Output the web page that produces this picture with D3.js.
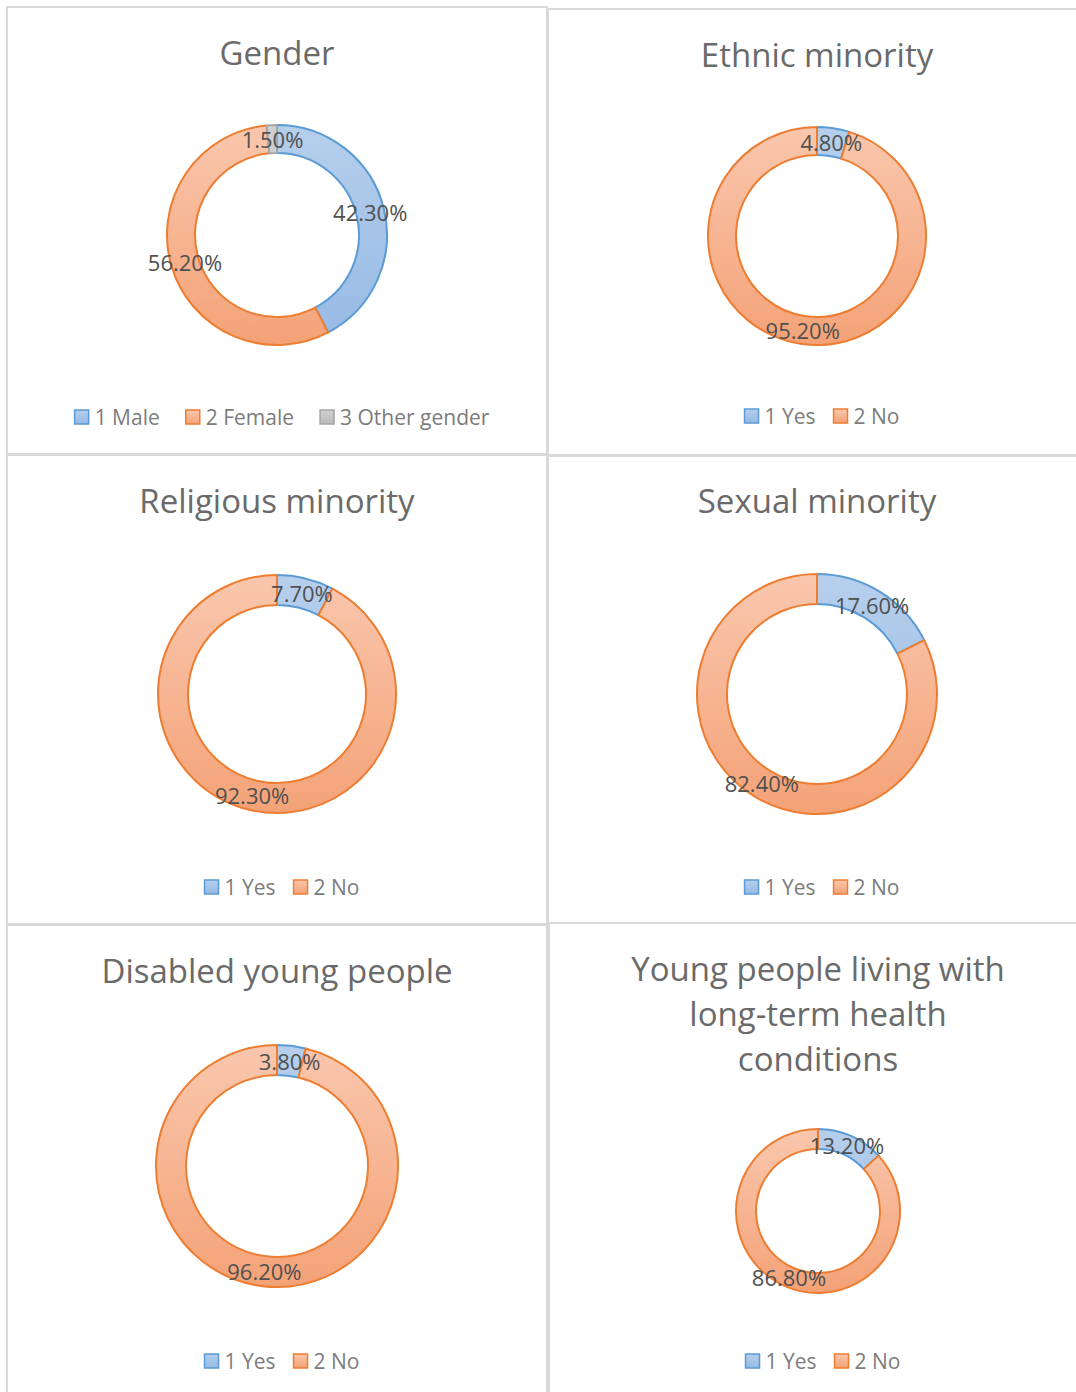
<!DOCTYPE html>
<html>
<head>
<meta charset="utf-8">
<script src="https://cdn.jsdelivr.net/npm/d3@7"></script>
<style>
  body { margin: 0; background: #fff; }
  svg { display: block; font-family: "Open Sans", "DejaVu Sans", sans-serif; }
</style>
</head>
<body>
<svg id="chart" width="1076" height="1392"></svg>
<script>
// --- dati ---
const genderLabels = ["1 Male", "2 Female", "3 Other gender"];
const genderValues = [42.3, 56.2, 1.5];

const yesNoLabels = ["1 Yes", "2 No"];
const ethnicValues = [4.8, 95.2];
const religiousValues = [7.7, 92.3];
const sexualValues = [17.6, 82.4];
const disabledValues = [3.8, 96.2];
const healthValues = [13.2, 86.8];

const chartTitles = [
  ["Gender"],
  ["Ethnic minority"],
  ["Religious minority"],
  ["Sexual minority"],
  ["Disabled young people"],
  ["Young people living with", "long-term health", "conditions"]
];

// colori (riempimento sfumato + bordo) per ogni categoria
const palette = [
  { top: "#b6cfec", bottom: "#96b9e4", stroke: "#5b9bd5" },
  { top: "#f9c7ae", bottom: "#f4a277", stroke: "#ed7d31" },
  { top: "#d0d0d0", bottom: "#bababa", stroke: "#a5a5a5" }
];

// --- impaginazione dei sei riquadri ---
const panels = [
  { box: [7, 7, 540, 447], title: 52, cx: 277, cy: 235, r: 110, w: 28, legendY: 417, gap: 26, labels: genderLabels, values: genderValues },
  { box: [548, 9, 540, 446], title: 54, cx: 817, cy: 236, r: 109, w: 28, legendY: 416, gap: 18, labels: yesNoLabels, values: ethnicValues },
  { box: [7, 455, 540, 469], title: 500, cx: 277, cy: 694, r: 119, w: 30, legendY: 887, gap: 18, labels: yesNoLabels, values: religiousValues },
  { box: [548, 456, 540, 467], title: 500, cx: 817, cy: 694, r: 120, w: 30, legendY: 887, gap: 18, labels: yesNoLabels, values: sexualValues },
  { box: [7, 925, 540, 480], title: 970, cx: 277, cy: 1166, r: 121, w: 30, legendY: 1361, gap: 18, labels: yesNoLabels, values: disabledValues },
  { box: [549, 923, 540, 480], title: 968, cx: 818, cy: 1211, r: 82, w: 20, legendY: 1361, gap: 18, labels: yesNoLabels, values: healthValues }
];
const legendShift = 5; // la legenda di Excel è un po' spostata a destra

const svg = d3.select("#chart");
const defs = svg.append("defs");

// sfumatura legenda (bounding box)
palette.forEach((c, i) => {
  const g = defs.append("linearGradient").attr("id", "lg" + i)
    .attr("x1", 0).attr("y1", 0).attr("x2", 0).attr("y2", 1);
  g.append("stop").attr("offset", 0).attr("stop-color", c.top);
  g.append("stop").attr("offset", 1).attr("stop-color", c.bottom);
});

const pie = d3.pie().sort(null).value(d => d);

panels.forEach((p, pi) => {
  const [bx, by, bw, bh] = p.box;
  const g = svg.append("g");

  g.append("rect")
    .attr("x", bx).attr("y", by).attr("width", bw).attr("height", bh)
    .attr("fill", "#fff").attr("stroke", "#d9d9d9").attr("stroke-width", 2);

  // titolo
  const lines = chartTitles[pi];
  lines.forEach((t, li) => {
    g.append("text")
      .attr("x", p.cx).attr("y", p.title + li * 45)
      .attr("text-anchor", "middle").attr("dominant-baseline", "central")
      .attr("font-size", 33).attr("fill", "#6a6a6a")
      .text(t);
  });

  // sfumature della ciambella (coordinate del gruppo traslato)
  palette.forEach((c, i) => {
    const grad = defs.append("linearGradient").attr("id", `dg${pi}_${i}`)
      .attr("gradientUnits", "userSpaceOnUse")
      .attr("x1", 0).attr("y1", -p.r).attr("x2", 0).attr("y2", p.r);
    grad.append("stop").attr("offset", 0).attr("stop-color", c.top);
    grad.append("stop").attr("offset", 1).attr("stop-color", c.bottom);
  });

  const arc = d3.arc().innerRadius(p.r - p.w).outerRadius(p.r);
  const labelArc = d3.arc().innerRadius(p.r - p.w / 2).outerRadius(p.r - p.w / 2);
  const arcs = pie(p.values);

  const donut = g.append("g").attr("transform", `translate(${p.cx},${p.cy})`);
  donut.selectAll("path")
    .data(arcs)
    .join("path")
    .attr("d", arc)
    .attr("fill", (d, i) => `url(#dg${pi}_${i})`)
    .attr("stroke", (d, i) => palette[i].stroke)
    .attr("stroke-width", 2)
    .attr("stroke-linejoin", "round");

  donut.selectAll("text")
    .data(arcs)
    .join("text")
    .attr("transform", d => `translate(${labelArc.centroid(d)})`)
    .attr("text-anchor", "middle").attr("dominant-baseline", "central")
    .attr("font-size", 22).attr("fill", "#505050")
    .text(d => d.data.toFixed(2) + "%");

  // legenda centrata
  const leg = g.append("g");
  let x = 0;
  p.labels.forEach((lab, i) => {
    const item = leg.append("g").attr("transform", `translate(${x},0)`);
    item.append("rect")
      .attr("x", 0).attr("y", -7).attr("width", 14).attr("height", 14)
      .attr("fill", `url(#lg${i})`).attr("stroke", palette[i].stroke).attr("stroke-width", 1.5);
    const t = item.append("text")
      .attr("x", 20).attr("y", 0).attr("dominant-baseline", "central")
      .attr("font-size", 21).attr("fill", "#7c7c7c")
      .text(lab);
    x += 20 + t.node().getComputedTextLength() + p.gap;
  });
  const total = x - p.gap;
  leg.attr("transform", `translate(${p.cx - total / 2 + legendShift},${p.legendY})`);
});
</script>
</body>
</html>
